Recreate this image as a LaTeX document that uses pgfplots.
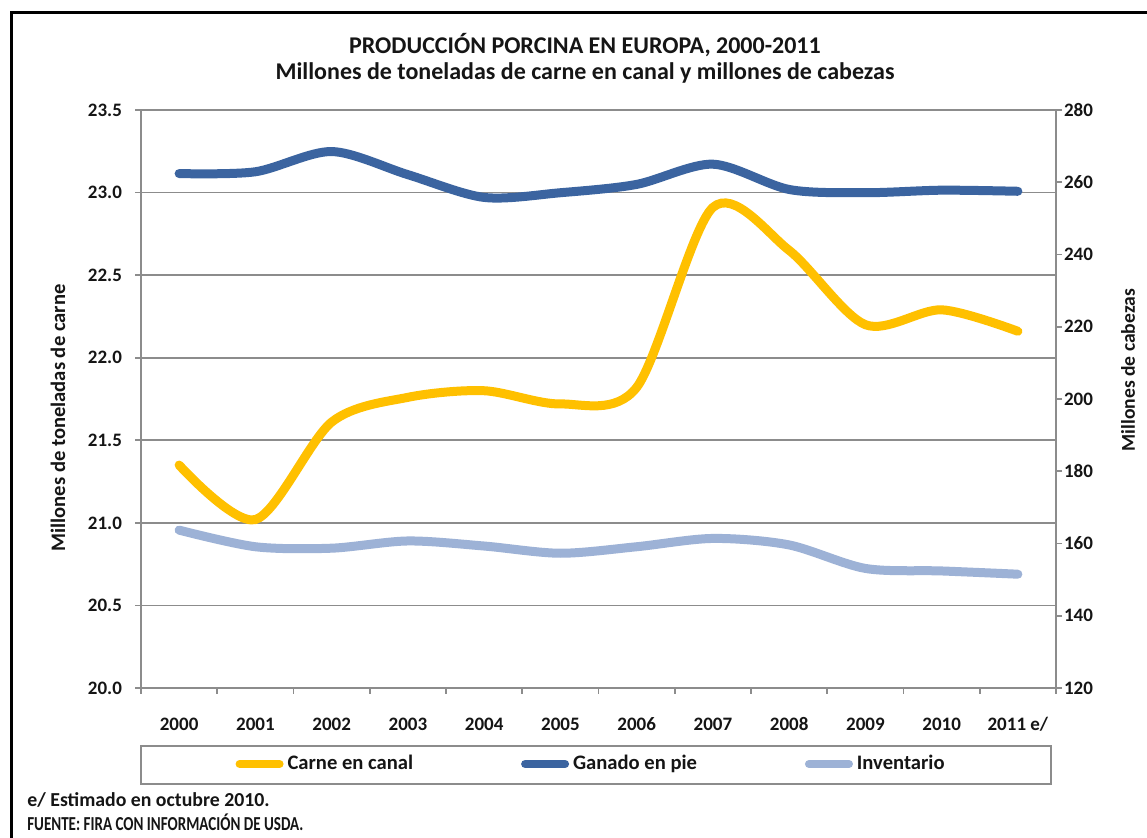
\documentclass[border=0pt]{standalone}
\usepackage{fontspec}
\setmainfont{Carlito}
\usepackage{pgfplots}
\usepackage{pgfplotstable}
\pgfplotsset{compat=1.18}
\definecolor{cyel}{HTML}{FFC000}
\definecolor{cdb}{HTML}{3B64A0}
\definecolor{clb}{HTML}{9DB2D6}
\definecolor{cgrid}{HTML}{8C8C8C}
\definecolor{ctext}{HTML}{151515}

\pgfplotstableread{
x carne ganado inv
0  21.35 262.4 163.7
1  21.02 262.9 159.1
2  21.61 268.5 158.7
3  21.76 262.1 160.7
4  21.80 255.8 159.3
5  21.72 257.1 157.3
6  21.82 259.4 159.1
7  22.91 265.0 161.4
8  22.65 258.0 159.6
9  22.20 257.1 153.1
10 22.29 257.8 152.4
11 22.16 257.5 151.5
}\data

\pgfplotsset{
  common/.style={
    at={(70.5pt,-344pt)}, anchor=south west,
    scale only axis, width=457.5pt, height=289pt,
    xmin=-0.5, xmax=11.5,
    tick align=outside,
    major tick length=3pt, minor tick length=3pt,
    tick style={cgrid, line width=0.8pt},
    axis line style={-, cgrid, line width=0.8pt},
    ticklabel style={font=\bfseries\fontsize{9.5}{11}\selectfont, text=ctext},
    /pgf/number format/assume math mode=true,
    label style={font=\bfseries\fontsize{10.3}{12}\selectfont, text=ctext},
  },
  serie/.style={line width=4.5pt, line cap=round, smooth, tension=0.5},
}

\begin{document}
\begin{tikzpicture}[x=1pt,y=1pt]
\useasboundingbox (0,0) rectangle (573.5,-419);
\fill[white] (0,0) rectangle (573.5,-419);
\draw[line width=1.5pt, black] (573.5,-6.5) -- (5.5,-6.5) -- (5.5,-419);

\node[font=\bfseries\fontsize{12}{14}\selectfont, text=ctext] at (292.5,-22.5) {PRODUCCIÓN PORCINA EN EUROPA, 2000-2011};
\node[font=\bfseries\fontsize{12}{14}\selectfont, text=ctext] at (292.5,-36.5) {Millones de toneladas de carne en canal y millones de cabezas};

\draw[cgrid, line width=0.8pt] (70.5,-373) rectangle (525.5,-392);

\node[anchor=west, inner sep=0pt, font=\bfseries\fontsize{9.9}{11}\selectfont, text=ctext] at (13.5,-400) {e/ Estimado en octubre 2010.};
\node[anchor=west, inner sep=0pt, xscale=0.76, font=\bfseries\fontsize{9.9}{11}\selectfont, text=ctext] at (13.5,-411) {FUENTE: FIRA CON INFORMACIÓN DE USDA.};

\begin{axis}[common,
  ymin=20, ymax=23.5,
  axis y line*=left, axis x line*=bottom,
  xtick={0,...,11},
  xticklabels={2000,2001,2002,2003,2004,2005,2006,2007,2008,2009,2010,2011 e/},
  major x tick style={draw=none},
  minor xtick={-0.5,0.5,...,11.5},
  xticklabel style={text height=1.6ex, text depth=0.3ex, yshift=-7pt},
  ytick={20,20.5,...,23.5},
  yticklabel style={xshift=-3pt, /pgf/number format/.cd, fixed, fixed zerofill, precision=1},
  ymajorgrids, grid style={cgrid, line width=0.8pt},
  ylabel={Millones de toneladas de carne},
  ylabel style={at={(axis description cs:-0.0907,0.467)}, anchor=center},
]
\addplot[serie, cyel] table[x=x, y=carne]{\data};
\end{axis}

\begin{axis}[common,
  ymin=120, ymax=280,
  axis y line*=right, axis x line=none,
  ytick={120,140,...,280},
  yticklabel style={xshift=-2.5pt},
  ylabel={Millones de cabezas},
  ylabel style={at={(axis description cs:1.0787,0.55)}, anchor=center, font=\bfseries\fontsize{9.8}{12}\selectfont},
  legend columns=3,
  legend style={at={(axis description cs:0.493,-0.1315)}, anchor=center,
    draw=none, fill=none, font=\bfseries\fontsize{10.3}{12}\selectfont, text=ctext,
    /tikz/every even column/.append style={column sep=52pt}},
  legend image code/.code={\draw[#1, line width=4pt, line cap=round] (2pt,0pt) -- (22pt,0pt);},
]
\addlegendimage{cyel}
\addlegendentry{Carne en canal}
\addplot[serie, cdb] table[x=x, y=ganado]{\data};
\addlegendentry{Ganado en pie}
\addplot[serie, clb] table[x=x, y=inv]{\data};
\addlegendentry{Inventario}
\end{axis}
\end{tikzpicture}
\end{document}
